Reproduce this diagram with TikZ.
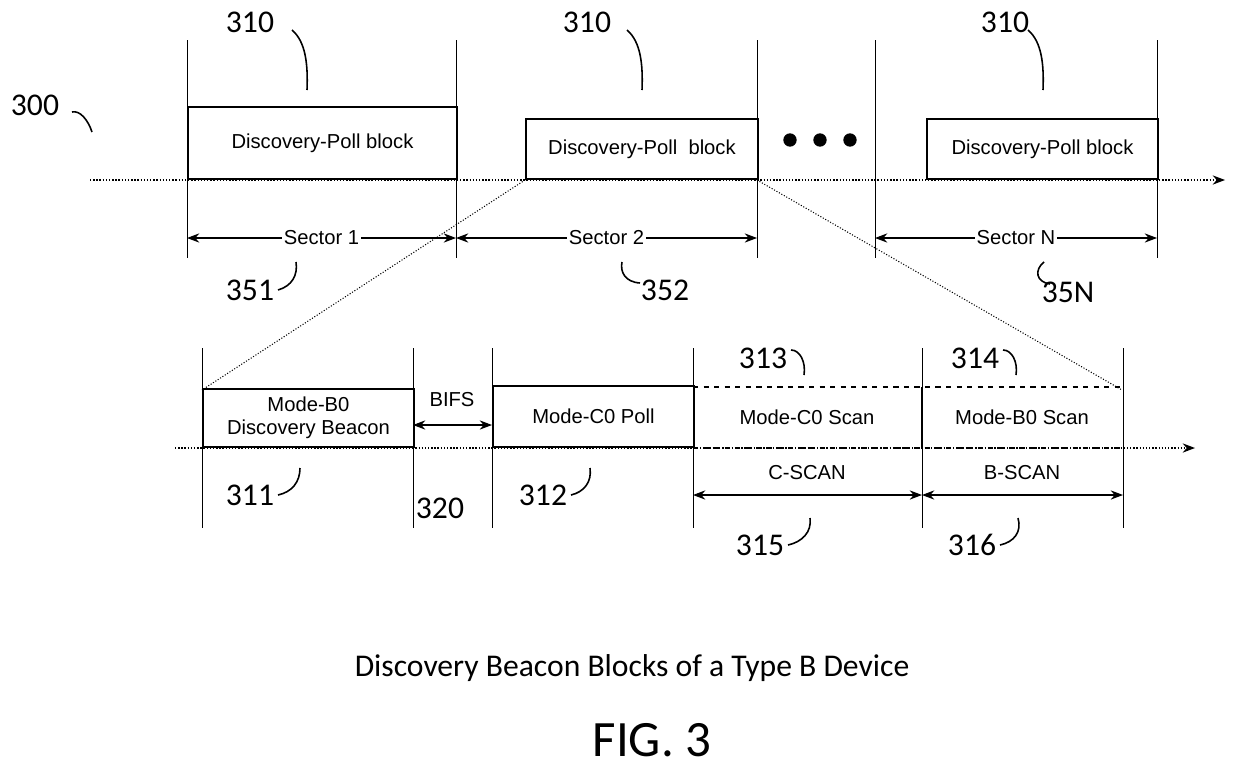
\documentclass[tikz,border=0pt]{standalone}
\usepackage{fontspec}
\setmainfont{Liberation Sans}
\newfontfamily\numfont{Carlito}
\usetikzlibrary{arrows.meta}
\begin{document}
\begin{tikzpicture}[x=0.02cm,y=-0.02cm,
  vl/.style={line width=0.5pt},
  blk/.style={draw,line width=1.1pt},
  btxt/.style={font=\fontsize{11.5}{13}\selectfont,align=center},
  num/.style={font=\numfont\fontsize{18}{20}\selectfont},
  lead/.style={line width=0.9pt},
  dim/.style={line width=0.6pt,{Stealth[length=7pt]}-{Stealth[length=7pt]}},
  tl/.style={line width=0.8pt,densely dotted,-{Stealth[length=7pt]}}]
\useasboundingbox (0,0) rectangle (1240,771);
% top timeline
\draw[tl] (90,180) -- (1225,180);
\foreach \x in {187,456,757,875,1157} \draw[vl] (\x,40) -- (\x,258);
\node[blk,btxt,minimum width=269*0.02cm,minimum height=72*0.02cm,anchor=south west] (b1) at (187,180) {Discovery-Poll block};
\node[blk,btxt,minimum width=232*0.02cm,minimum height=60*0.02cm,anchor=south west] (b2) at (525,180) {Discovery-Poll\ \ block};
\node[blk,btxt,minimum width=231*0.02cm,minimum height=60*0.02cm,anchor=south west] (b3) at (926,180) {Discovery-Poll block};
\foreach \x in {790,820,850} \fill (\x,140) circle (3.8pt);
% sectors
\draw[dim] (187,238) -- node[fill=white,inner sep=1pt,btxt] (s1) {Sector 1} (456,238);
\draw[dim] (456,238) -- node[fill=white,inner sep=1pt,btxt] (s2) {Sector 2} (757,238);
\draw[dim] (875,238) -- node[fill=white,inner sep=1pt,btxt] (sn) {Sector N} (1157,238);
% numbers top
\node[num] (n310a) at (250,22) {310};
\node[num] (n310b) at (587,22) {310};
\node[num] (n310c) at (1005,22) {310};
\foreach \x in {292,627,1028} \draw[lead] (\x,30) .. controls (\x+14,42) and (\x+16,65) .. (\x+15,90);
\node[num] (n300) at (35,105) {300};
\draw[lead] (72,112) .. controls (80,110) and (88,120) .. (92,132);
\node[num] (n351) at (250,290) {351};
\node[num] (n352) at (665,290) {352};
\node[num] (n35N) at (1068,292) {35N};
\draw[lead] (278,290) .. controls (292,286) and (298,275) .. (296,262);
\draw[lead] (640,283) .. controls (625,282) and (620,272) .. (622,262);
\draw[lead] (1044,262) .. controls (1034,270) and (1036,282) .. (1050,284);
% zoom lines
\draw[densely dotted,line width=0.6pt] (525,180) -- (202,390);
\draw[densely dotted,line width=0.6pt] (757,180) -- (1122,390);
% bottom timeline
\draw[tl] (175,448) -- (1195,448);
\foreach \x in {202,413,492,693,922,1123} \draw[vl] (\x,348) -- (\x,528);
\node[blk,btxt,minimum width=211*0.02cm,minimum height=58*0.02cm,anchor=south west] (m1) at (202,448) {Mode-B0\\Discovery Beacon};
\node[blk,btxt,minimum width=201*0.02cm,minimum height=61*0.02cm,anchor=south west] (m2) at (492,448) {Mode-C0 Poll};
\draw[line width=1.1pt,dashed] (693,387) -- (1123,387);
\draw[line width=1.1pt,dashed] (693,448) -- (1123,448);
\draw[line width=1.1pt] (922,387) -- (922,448);
\node[btxt] (m3) at (807,417) {Mode-C0 Scan};
\node[btxt] (m4) at (1022,417) {Mode-B0 Scan};
\draw[dim] (413,425) -- (492,425);
\node[btxt] (bifs) at (452,400) {BIFS};
\draw[dim] (693,495) -- (922,495);
\draw[dim] (922,495) -- (1123,495);
\node[btxt] (cs) at (807,473) {C-SCAN};
\node[btxt] (bs) at (1022,473) {B-SCAN};
% numbers bottom
\node[num] (n311) at (250,495) {311};
\node[num] (n320) at (440,508) {320};
\node[num] (n312) at (543,495) {312};
\node[num] (n315) at (760,545) {315};
\node[num] (n316) at (972,545) {316};
\node[num] (n313) at (763,358) {313};
\node[num] (n314) at (975,358) {314};
\draw[lead] (278,495) .. controls (292,492) and (300,482) .. (300,468);
\draw[lead] (571,495) .. controls (584,492) and (592,482) .. (590,468);
\draw[lead] (788,545) .. controls (802,542) and (812,532) .. (810,518);
\draw[lead] (1000,545) .. controls (1014,542) and (1022,532) .. (1018,518);
\draw[lead] (791,350) .. controls (800,350) and (806,362) .. (804,375);
\draw[lead] (1003,350) .. controls (1012,350) and (1018,362) .. (1016,375);
% captions
\node[font=\numfont\fontsize{18}{20}\selectfont] (cap) at (632,668) {Discovery Beacon Blocks of a Type B Device};
\node[font=\numfont\fontsize{29}{32}\selectfont] (fig) at (652,740) {FIG. 3};
\end{tikzpicture}
\end{document}
